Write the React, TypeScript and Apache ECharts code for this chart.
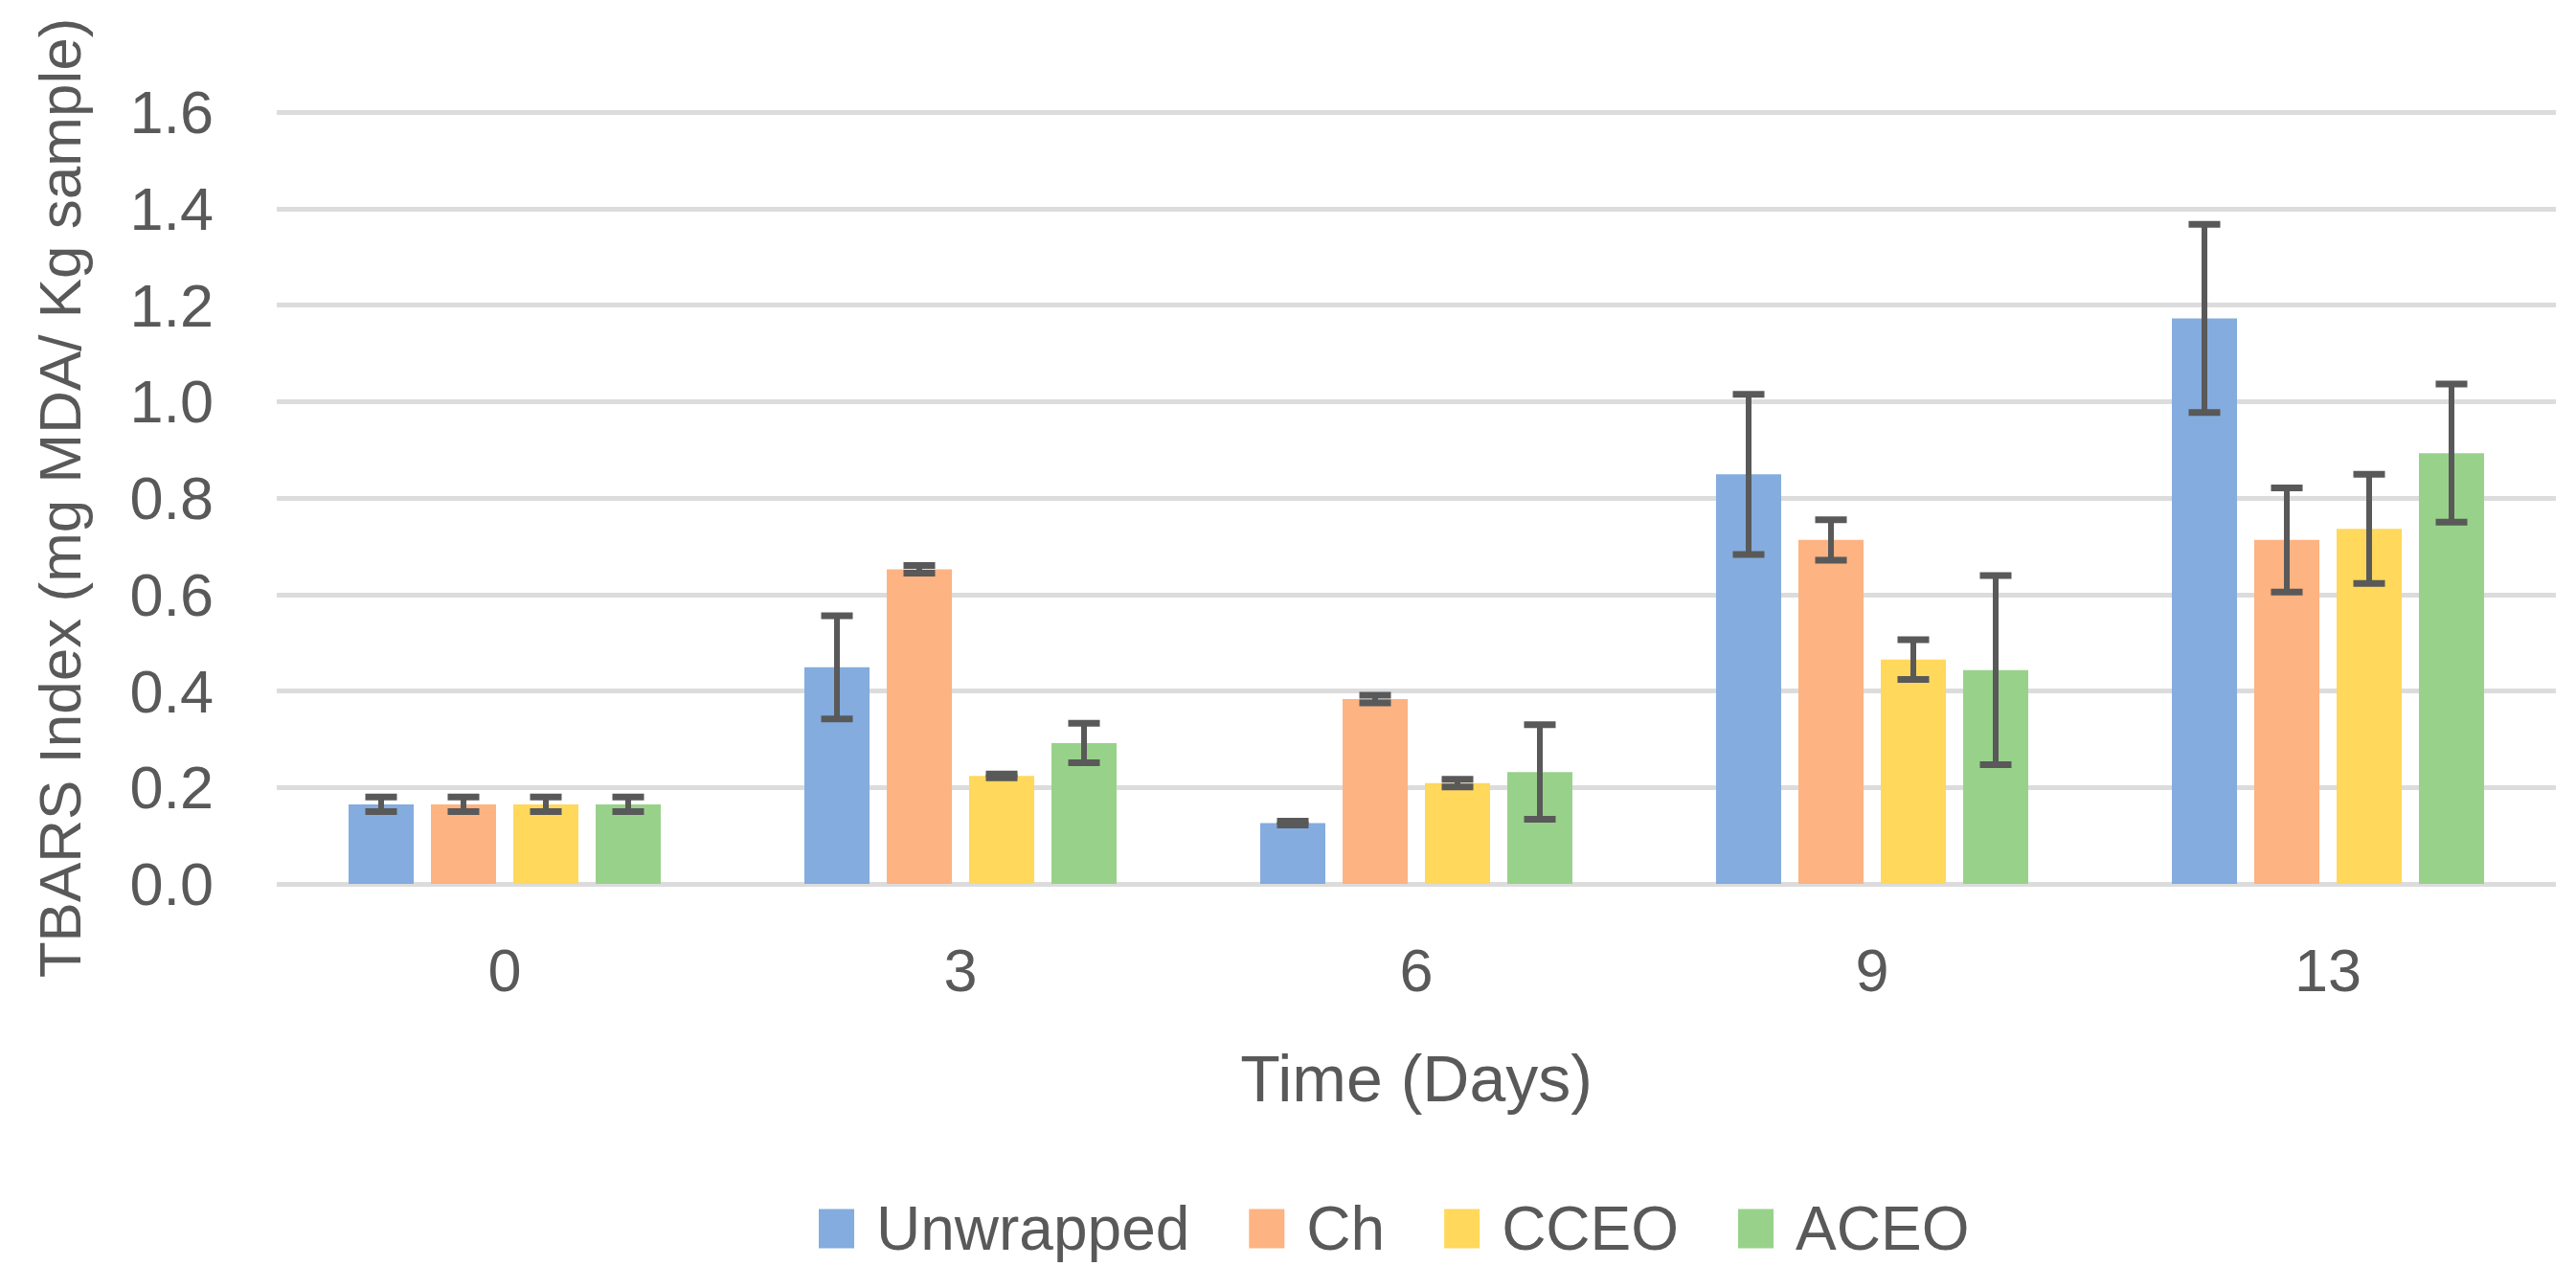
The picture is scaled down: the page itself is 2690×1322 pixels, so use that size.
import React, { useEffect, useRef } from "react";
import * as echarts from "echarts";

const categories = ["0", "3", "6", "9", "13"];
const seriesNames = ["Unwrapped", "Ch", "CCEO", "ACEO"];
const unwrapped = [0.165, 0.449, 0.126, 0.849, 1.172];
const ch = [0.165, 0.652, 0.383, 0.713, 0.713];
const cceo = [0.165, 0.224, 0.209, 0.465, 0.736];
const aceo = [0.165, 0.292, 0.232, 0.443, 0.893];
const unwrappedErr = [0.015, 0.107, 0.004, 0.166, 0.195];
const chErr = [0.015, 0.008, 0.008, 0.042, 0.108];
const cceoErr = [0.015, 0.004, 0.008, 0.041, 0.113];
const aceoErr = [0.015, 0.041, 0.098, 0.196, 0.143];
const yTicks = { min: 0, max: 1.6, interval: 0.2 };

const colors = ["#84acde", "#fdb382", "#ffd85c", "#98d28a"];
const values = [unwrapped, ch, cceo, aceo];
const errors = [unwrappedErr, chErr, cceoErr, aceoErr];

const FONT = "'Liberation Sans', Arial, sans-serif";
const TEXT = "#595959";
const BAR_W = 68;
const BAR_GAP = 18;

export default function App() {
  const ref = useRef<HTMLDivElement>(null);
  useEffect(() => {
    document.body.style.margin = "0";
    const chart = echarts.init(ref.current!, null, { renderer: "svg" });
    const step = BAR_W + BAR_GAP;
    const barSeries = seriesNames.map((name, i) => ({
      name,
      type: "bar",
      data: values[i],
      barWidth: BAR_W,
      barGap: (BAR_GAP / BAR_W) * 100 + "%",
      itemStyle: { color: colors[i] },
      z: 2,
    }));
    const errSeries = seriesNames.map((name, i) => {
      const offset = (i - 1.5) * step;
      return {
        name: name + " error",
        type: "custom",
        z: 5,
        data: values[i].map((v, k) => [k, v, errors[i][k]]),
        renderItem: (params: any, api: any) => {
          const ci = api.value(0);
          const v = api.value(1);
          const e = api.value(2);
          const hi = api.coord([ci, v + e]);
          const lo = api.coord([ci, v - e]);
          const x = hi[0] + offset;
          const capW = 33;
          const st = { stroke: "#595959", lineWidth: 6 };
          const capSt = { stroke: "#595959", lineWidth: 7 };
          return {
            type: "group",
            children: [
              { type: "line", shape: { x1: x, y1: hi[1], x2: x, y2: lo[1] }, style: st },
              { type: "line", shape: { x1: x - capW / 2, y1: hi[1], x2: x + capW / 2, y2: hi[1] }, style: capSt },
              { type: "line", shape: { x1: x - capW / 2, y1: lo[1], x2: x + capW / 2, y2: lo[1] }, style: capSt },
            ],
          };
        },
      };
    });
    chart.setOption({
      animation: false,
      textStyle: { fontFamily: FONT, color: TEXT },
      grid: { left: 289, right: 21, top: 117, bottom: 399, containLabel: false },
      legend: {
        data: seriesNames.map((n, i) => ({ name: n, icon: "rect", itemStyle: { color: colors[i] } })),
        left: 850,
        top: 1246,
        itemWidth: 37,
        itemHeight: 41,
        itemGap: 62,
        textStyle: { fontFamily: FONT, fontSize: 64, color: TEXT, padding: [0, 0, 0, 18] },
      },
      xAxis: {
        type: "category",
        data: categories,
        axisLine: { show: false },
        axisTick: { show: false },
        axisLabel: { fontFamily: FONT, fontSize: 63, color: TEXT, margin: 58 },
        name: "Time (Days)",
        nameLocation: "middle",
        nameGap: 169,
        nameTextStyle: { fontFamily: FONT, fontSize: 68, color: TEXT },
      },
      yAxis: {
        type: "value",
        min: yTicks.min,
        max: yTicks.max,
        interval: yTicks.interval,
        axisLine: { show: false },
        axisTick: { show: false },
        axisLabel: {
          fontFamily: FONT,
          fontSize: 63,
          color: TEXT,
          margin: 66,
          formatter: (v: number) => v.toFixed(1),
        },
        splitLine: { lineStyle: { color: "#dcdcdc", width: 5 } },
        name: "TBARS Index (mg MDA/ Kg sample)",
        nameLocation: "middle",
        nameGap: 196,
        nameTextStyle: { fontFamily: FONT, fontSize: 62, color: TEXT },
      },
      series: [...barSeries, ...errSeries],
    });
    return () => chart.dispose();
  }, []);
  return <div ref={ref} style={{ width: 2690, height: 1322 }} />;
}
